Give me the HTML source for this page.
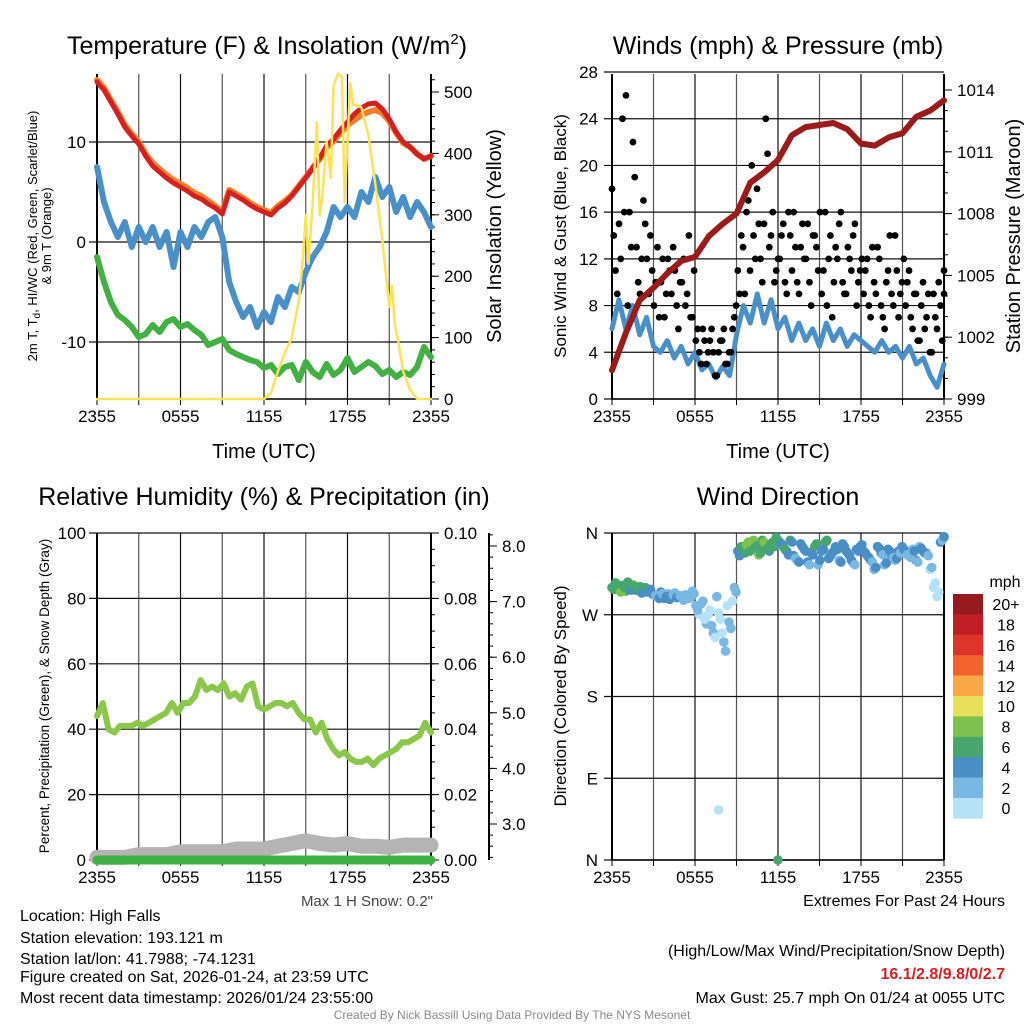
<!DOCTYPE html>
<html><head><meta charset="utf-8"><style>
body{margin:0;background:#fff}
svg{display:block;font-family:"Liberation Sans",sans-serif}
</style></head><body>
<svg id="s" width="1024" height="1024" viewBox="0 0 1024 1024">
<rect width="1024" height="1024" fill="#fff"/>
<text x="267" y="54" font-size="25" text-anchor="middle">Temperature (F) &amp; Insolation (W/m<tspan font-size="15" dy="-10">2</tspan><tspan dy="10">)</tspan></text>
<text x="778" y="54" font-size="25" text-anchor="middle">Winds (mph) &amp; Pressure (mb)</text>
<text x="264" y="505" font-size="25" text-anchor="middle">Relative Humidity (%) &amp; Precipitation (in)</text>
<text x="778" y="505" font-size="25" text-anchor="middle">Wind Direction</text>
<text x="264" y="458" font-size="20" text-anchor="middle">Time (UTC)</text>
<text x="778" y="458" font-size="20" text-anchor="middle">Time (UTC)</text>
<g transform="translate(37,236) rotate(-90)" font-size="13" text-anchor="middle">
<text y="0">2m T, T<tspan font-size="10" dy="3">d</tspan><tspan dy="-3">,  HI/WC (Red, Green, Scarlet/Blue)</tspan></text>
<text y="14">&amp; 9m T (Orange)</text></g>
<text transform="translate(501,236) rotate(-90)" font-size="20" text-anchor="middle">Solar Insolation (Yellow)</text>
<text transform="translate(566,236) rotate(-90)" font-size="17" text-anchor="middle">Sonic Wind &amp; Gust (Blue, Black)</text>
<text transform="translate(1020,236) rotate(-90)" font-size="20" text-anchor="middle">Station Pressure (Maroon)</text>
<text transform="translate(49,696) rotate(-90)" font-size="13.5" text-anchor="middle">Percent, Precipitation (Green), &amp; Snow Depth (Gray)</text>
<text transform="translate(566,696) rotate(-90)" font-size="17" text-anchor="middle">Direction (Colored By Speed)</text>
<text x="433" y="906" font-size="15" text-anchor="end" fill="#444">Max 1 H Snow: 0.2"</text>
<g font-size="16">
<text x="20" y="921">Location: High Falls</text>
<text x="20" y="943">Station elevation: 193.121 m</text>
<text x="20" y="964">Station lat/lon: 41.7988; -74.1231</text>
<text x="20" y="982">Figure created on Sat, 2026-01-24, at 23:59 UTC</text>
<text x="20" y="1003">Most recent data timestamp: 2026/01/24 23:55:00</text></g>
<g font-size="16" text-anchor="end">
<text x="1005" y="906">Extremes For Past 24 Hours</text>
<text x="1005" y="956">(High/Low/Max Wind/Precipitation/Snow Depth)</text>
<text x="1005" y="979" font-weight="bold" fill="#d42020">16.1/2.8/9.8/0/2.7</text>
<text x="1005" y="1003">Max Gust: 25.7 mph On 01/24 at 0055 UTC</text></g>
<text x="512" y="1019" font-size="12" fill="#888" text-anchor="middle">Created By Nick Bassill Using Data Provided By The NYS Mesonet</text>
<text x="1005" y="587" font-size="16" text-anchor="middle">mph</text>
</svg>
<script>
// ---------- data ----------
const timeLabels = ["2355","0555","1155","1755","2355"];
const tempF = [16,15.2,14,12.8,11.5,10.6,9.8,8.6,7.6,7,6.4,5.9,5.5,5.1,4.6,4.3,3.8,3.4,2.8,5,4.6,4.2,3.7,3.3,3,2.7,3.4,3.9,4.6,5.5,6.4,7.4,8.4,9.6,10.3,11.2,12,12.8,13.4,13.8,13.9,13.3,12.3,11,10,9.5,8.8,8.3,8.6];
const temp9m = [16.2,15.4,14.2,13,11.7,10.8,10,8.8,7.9,7.3,6.7,6.2,5.8,5.4,4.9,4.6,4.1,3.6,3,5.2,4.8,4.4,3.9,3.5,3.2,2.9,3.6,4.1,4.7,5.6,6.5,7.4,8.3,9.4,10.1,10.9,11.7,12.2,12.7,13,13.2,12.9,12.1,10.9,9.9,9.5,8.8,8.3,8.6];
const dewF = [7.5,4,2,0.5,2,-0.5,1.5,0,1.5,-0.5,1,-2.5,1,-0.5,1.5,0.5,2,2.5,0.5,-4,-6,-7.5,-6.5,-8.5,-7,-8,-5.5,-6.5,-4.5,-5,-3,-1.5,-0.5,1,3.5,2.5,3.5,2.5,5,4,6.5,4.5,5.5,3,4.5,2.5,4,3,1.5];
const chillF = [-1.5,-4,-6,-7.3,-7.8,-8.5,-9.5,-9.2,-8.3,-9,-8,-7.7,-8.5,-8.2,-8.8,-9.3,-10.3,-10,-9.7,-10.8,-11.2,-11.5,-11.8,-12,-12.6,-12.3,-13.2,-12.5,-12.3,-13.8,-12,-13,-13.5,-12.2,-13.3,-12.8,-11.6,-13,-12.5,-12,-12.4,-13.2,-12.8,-13.5,-13,-13.3,-12.5,-10.5,-11.5];
const solarHours = [0,12,12.5,13,13.5,14,14.5,14.8,15,15.2,15.5,15.8,16,16.2,16.5,16.8,17,17.3,17.6,17.8,18,18.2,18.4,19,19.5,20,20.5,21,21.2,21.4,21.6,22,22.5,23,24];
const solarW = [0,0,10,45,75,100,160,230,300,220,320,450,300,330,420,360,510,530,525,320,420,515,480,475,430,350,260,150,185,120,100,45,15,0,0];
const pressureMb = [1000.4,1002.2,1003.8,1004.4,1005.1,1005.7,1005.9,1006.9,1007.5,1008,1009.5,1010,1010.6,1011.8,1012.2,1012.3,1012.4,1012.1,1011.4,1011.3,1011.7,1011.9,1012.7,1013,1013.5];
const windMph = [6,8.5,6,8,5.5,7,4.5,4,5,3.5,4.5,3,4,2.5,3,1.8,2.8,2,5.5,8,6.5,9,6.5,8.5,6,7,5,6.5,5,6,4.5,6.5,5,6,4.5,5.5,5,4.5,4,5,4,4.5,3.5,4.5,3,3.5,2,1,3];
const gustMph = [18,11,15,24,26,16,22,13,9,17,12,14, 8,13,10,7,12,9,11,6,10,8,14,7, 5,4,6,3,5,4,2,5,6,3,4,7, 11,14,9,17,20,12,15,10,24,13,16,11, 12,15,9,14,16,10,13,12,15,8,14,11,9,16,12,7,13,15,10,9,12,14,8,11, 9,12,7,10,13,8,6,11,9,14,7,10, 8,11,6,9,5,10,7,4,9,6,8,11];
const gustMphB = [14,9,12,16,8,13,19,10,12,15,9,11, 10,7,12,9,11,13,8,10,12,9,7,11, 6,3,5,4,6,2,4,5,3,4,6,8, 9,13,16,11,14,18,12,15,21,14,10,12, 14,10,16,11,13,9,15,12,10,14,13,16,11,8,14,10,12,16,9,13,11,15,10,12, 11,8,13,9,12,7,10,14,8,11,9,12, 10,7,9,5,8,6,9,4,7,10,5,9];
const dirDeg = [300,305,298,302,296,300,303,297,301,299,295,298, 292,290,295,288,293,291,294,289,290,292,288,296, 280,270,285,260,275,250,290,265,240,280,255,300, 340,345,338,350,342,348,336,352,345,340,350,355, 350,345,340,352,335,330,348,342,328,338,345,325,340,350,332,338,345,330,348,340,335,327,342,345, 340,335,330,320,345,338,325,342,335,330,340,345, 338,335,342,330,345,340,338,320,300,290,350,355];
const dirSpeed = [7,6,8,7,6,5,8,7,6,5,6,4, 4,3,4,5,3,4,3,4,2,3,2,3, 2,1,2,2,1,2,2,0,2,1,2,3, 4,6,7,8,6,7,9,6,7,5,6,7, 6,5,4,6,4,3,5,4,4,5,6,3,4,6,5,4,4,3,5,6,4,3,4,5, 4,3,4,3,5,4,3,4,4,3,4,5, 3,4,3,4,3,4,2,1,1,0,4,3];
const dirDegB = [298,303,295,300,306,297,301,299,294,300,296,293, 291,288,293,290,287,292,289,291,286,290,289,293, 275,282,265,270,258,245,272,250,230,262,285,295, 335,342,347,340,352,346,338,350,343,348,345,352, 348,342,336,350,332,328,345,340,325,336,348,330,342,352,335,340,342,328,345,338,330,325,340,347, 338,333,328,322,343,336,327,340,333,332,338,342, 336,333,340,328,343,338,335,322,305,295,352,356];
const dirSpeedB = [6,7,8,6,7,5,6,7,5,6,4,5, 3,4,3,4,4,3,4,3,3,2,3,2, 2,2,1,1,2,1,0,1,2,2,1,3, 5,7,8,6,9,7,6,8,6,7,6,7, 5,6,4,5,3,4,5,4,3,5,6,4,5,6,4,4,5,4,4,5,4,3,5,4, 4,4,3,4,4,3,4,4,3,4,3,4, 3,3,4,3,4,4,3,2,1,1,3,4];
const extraDirHours = [7.7,12.0];
const extraDirDeg = [55,0];
const extraDirSpeed = [1,7];
const rhPct = [44,48,40,39,41,41,41,42,41,42,43,44,45,48,45,48,48,50,55,52,53,52,54,50,51,49,53,54,47,46,47,48,48,47,48,45,43,43,39,42,37,34,32,33,31,30,30,31,29,31,32,33,34,36,36,37,38,42,39];
const snowIn = [2.4,2.4,2.4,2.45,2.45,2.45,2.5,2.5,2.5,2.5,2.55,2.55,2.55,2.6,2.65,2.7,2.65,2.62,2.65,2.6,2.6,2.58,2.62,2.62,2.62];
const precipIn = [0,0,0,0,0,0,0,0,0,0,0,0,0,0,0,0,0,0,0,0,0,0,0,0,0];
const speedBins = ["0","2","4","6","8","10","12","14","16","18","20+"];
const binColors = ["#b6e2f8","#7ab8e4","#4a8ec6","#47a56e","#7dc24e","#e6e05a","#f8a845","#f2632c","#e0342a","#c21e26","#961a1d"];

// ---------- helpers ----------
const NS="http://www.w3.org/2000/svg", svg=document.getElementById('s');
function mk(tag,attrs,parent){const e=document.createElementNS(NS,tag);for(const k in attrs)e.setAttribute(k,attrs[k]);(parent||svg).appendChild(e);return e;}
function lin(d0,d1,r0,r1){return v=>r0+(v-d0)/(d1-d0)*(r1-r0);}
function pathD(xs,ys){return xs.map((x,i)=>(i?'L':'M')+x.toFixed(1)+' '+ys[i].toFixed(1)).join(' ');}
function stepHours(n){const a=[];for(let i=0;i<n;i++)a.push(i*24/(n-1));return a;}

const P1={x0:97,x1:431,y0:74,y1:399}, P2={x0:612,x1:944,y0:74,y1:399}, P3={x0:97,x1:431,y0:533,y1:860}, P4={x0:612,x1:944,y0:533,y1:860};

function frame(P,name,yTicks,yScale,yLabels,leftX){
  const g=mk('g',{});
  
  
  const xs=lin(0,24,P.x0,P.x1);
  for(let h=0;h<=24;h+=3){
    const x=xs(h);
    const l=mk('line',{x1:x,x2:x,y1:P.y0,y2:P.y1,stroke:(h%6==0)?'#111':'#555','stroke-width':1.2},g);
    
    
    mk('line',{x1:x,x2:x,y1:P.y1,y2:P.y1+6,stroke:'#000'},g);
  }
  timeLabels.forEach((t,i)=>{
    const tx=mk('text',{x:xs(i*6),y:P.y1+23,'font-size':17,'text-anchor':'middle'},g);
    tx.textContent=t;
    
    
  });
  yTicks.forEach((v,i)=>{
    const y=yScale(v);
    const l=mk('line',{x1:P.x0-8,x2:P.x1,y1:y,y2:y,stroke:'#111','stroke-width':1.2},g);
    
    
    const tx=mk('text',{x:leftX,y:y+6,'font-size':17,'text-anchor':'end'},g);
    tx.textContent=yLabels[i];
    
    
  });
  mk('line',{x1:P.x0,x2:P.x0,y1:P.y0,y2:P.y1,stroke:'#000','stroke-width':2},g);
  mk('line',{x1:P.x1,x2:P.x1,y1:P.y0,y2:P.y1,stroke:'#000','stroke-width':2},g);
  mk('line',{x1:P.x0,x2:P.x1,y1:P.y1,y2:P.y1,stroke:'#000','stroke-width':1.5},g);
  return g;
}
function rightAxis(P,ax,ticks,scale,labels,minorStep,lo,hi,name){
  const g=mk('g',{});
  
  
  if(ax!==P.x1) mk('line',{x1:ax,x2:ax,y1:P.y0,y2:P.y1,stroke:'#000','stroke-width':2},g);
  for(let v=lo;v<=hi+1e-9;v+=minorStep){const y=scale(v);if(y<P.y0-1||y>P.y1+1)continue;mk('line',{x1:ax,x2:ax+4,y1:y,y2:y,stroke:'#000'},g);}
  ticks.forEach((v,i)=>{const y=scale(v);mk('line',{x1:ax,x2:ax+8,y1:y,y2:y,stroke:'#000'},g);
    const tx=mk('text',{x:ax+13,y:y+6,'font-size':17},g);tx.textContent=labels[i];
    
    });
}
function line(xs,ys,color,w,name,parent){
  const p=mk('path',{d:pathD(xs,ys),fill:'none',stroke:color,'stroke-width':w,'stroke-linejoin':'round','stroke-linecap':'round'},parent);
  
  
  return p;
}

// ---------- panel 1 ----------
{
  const P=P1, xs=lin(0,24,P.x0,P.x1), yT=lin(-10,10,342,142), yS=lin(0,500,399,92);
  frame(P,'temp',[10,0,-10],yT,['10','0','-10'],86);
  rightAxis(P,P.x1,[0,100,200,300,400,500],yS,['0','100','200','300','400','500'],20,0,520,'solar-axis');
  const g=mk('g',{});
  
  
  const h=stepHours(tempF.length);
  line(h.map(xs),temp9m.map(yT),'#f07f27',6,'orange-9m-temp-line',g);
  line(h.map(xs),tempF.map(yT),'#d42020',5,'red-temp-line',g);
  line(stepHours(dewF.length).map(xs),dewF.map(yT),'#4a90c8',6,'blue-dewpoint-line',g);
  line(stepHours(chillF.length).map(xs),chillF.map(yT),'#43b043',6,'green-windchill-line',g);
  line(solarHours.map(xs),solarW.map(yS),'#fde25a',2.5,'yellow-solar-line',g);
}
// ---------- panel 2 ----------
{
  const P=P2, xs=lin(0,24,P.x0,P.x1), yW=lin(0,28,399,72), yP=lin(999,1014,399,90);
  frame(P,'wind',[0,4,8,12,16,20,24,28],yW,['0','4','8','12','16','20','24','28'],598);
  rightAxis(P,P.x1,[999,1002,1005,1008,1011,1014],yP,['999','1002','1005','1008','1011','1014'],1,999,1014,'pressure-axis');
  const g=mk('g',{});
  
  
  line(stepHours(windMph.length).map(xs),windMph.map(yW),'#4a90c8',5,'blue-wind-line',g);
  const gh=stepHours(gustMph.length), half=12/(gustMph.length-1);
  gustMph.forEach((v,i)=>{const c=mk('circle',{cx:xs(gh[i]),cy:yW(v),r:3.4,fill:'#000'},g);
    
    });
  gustMphB.forEach((v,i)=>{const c=mk('circle',{cx:xs(Math.min(24,gh[i]+half)),cy:yW(v),r:3.4,fill:'#000'},g);
    
    });
  line(stepHours(pressureMb.length).map(xs),pressureMb.map(yP),'#9b1b1b',6,'maroon-pressure-line',g);
}
// ---------- panel 3 ----------
{
  const P=P3, xs=lin(0,24,P.x0,P.x1), yR=lin(0,100,860,533), ySn=lin(3,8,824,546), yPr=lin(0,0.1,860,533);
  frame(P,'rh',[0,20,40,60,80,100],yR,['0','20','40','60','80','100'],86);
  rightAxis(P,P.x1,[0,0.02,0.04,0.06,0.08,0.1],yPr,['0.00','0.02','0.04','0.06','0.08','0.10'],0.005,0,0.1,'precip-axis');
  rightAxis(P,489,[3,4,5,6,7,8],ySn,['3.0','4.0','5.0','6.0','7.0','8.0'],0.2,2.4,8.2,'snow-axis');
  const g=mk('g',{});
  
  
  line(stepHours(snowIn.length).map(xs),snowIn.map(ySn),'#b4b4b4',15,'gray-snow-depth-line',g);
  line(stepHours(rhPct.length).map(xs),rhPct.map(yR),'#8bc74a',6,'green-rh-line',g);
  line(stepHours(precipIn.length).map(xs),precipIn.map(yPr),'#3fb044',9,'green-precip-line',g);
}
// ---------- panel 4 ----------
{
  const P=P4, xs=lin(0,24,P.x0,P.x1), yD=lin(0,360,860,533);
  frame(P,'direction',[0,90,180,270,360],yD,['N','E','S','W','N'],598);
  const g=mk('g',{});
  
  
  const dh=stepHours(dirDeg.length), half=12/(dirDeg.length-1);
  const col=s=>binColors[Math.min(10,Math.floor(s/2))];
  dirDeg.forEach((d,i)=>{const c=mk('circle',{cx:xs(dh[i]),cy:yD(d),r:4.8,fill:col(dirSpeed[i])},g);
    
    });
  dirDegB.forEach((d,i)=>{const c=mk('circle',{cx:xs(Math.min(24,dh[i]+half)),cy:yD(d),r:4.8,fill:col(dirSpeedB[i])},g);
    
    });
  extraDirDeg.forEach((d,i)=>{const c=mk('circle',{cx:xs(extraDirHours[i]),cy:yD(d),r:4.8,fill:col(extraDirSpeed[i])},g);
    
    });
  // colorbar
  const cb=mk('g',{});
  
  
  const top=594,hh=20.4;
  speedBins.forEach((lab,i)=>{const k=10-i;const y=top+i*hh;
    const r=mk('rect',{x:953,y:y,width:30,height:hh+0.3,fill:binColors[k]},cb);
    
    
    const t=mk('text',{x:1006,y:y+hh/2+6,'font-size':16,'text-anchor':'middle'},cb);t.textContent=speedBins[k];
    
    });
}
</script>
</body></html>
